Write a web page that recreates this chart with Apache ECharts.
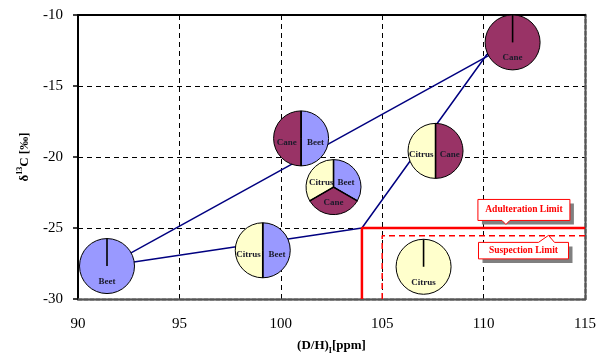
<!DOCTYPE html>
<html>
<head>
<meta charset="utf-8">
<script src="https://cdn.jsdelivr.net/npm/echarts@6/dist/echarts.min.js"></script>
<style>
  html, body { margin: 0; padding: 0; background: #fff; }
  #chart1 { width: 600px; height: 360px; }
</style>
</head>
<body>
<div id="chart1"></div>
<script>
// pie positions (D/H, d13C) and their slices, clockwise from 12 o'clock
const pieX = [91.43, 101.0, 102.6, 99.11, 107.63, 111.43, 107.04];
const pieY = [-27.68, -18.69, -22.12, -26.57, -19.57, -11.93, -27.73];
const pieParts = [
    ['Beet'],
    ['Beet', 'Cane'],
    ['Beet', 'Cane', 'Citrus'],
    ['Beet', 'Citrus'],
    ['Cane', 'Citrus'],
    ['Cane'],
    ['Citrus']
];
const partColors = { Beet: '#9999FF', Cane: '#993366', Citrus: '#FFFFCC' };

// blue connecting lines
const line1X = [91.43, 111.43];
const line1Y = [-27.68, -11.93];
const line2X = [91.43, 104, 110.16, 111.43];
const line2Y = [-27.68, -25, -12.78, -11.93];

// limits
const adultX = [104, 104, 115];
const adultY = [-30, -25, -25];
const suspX = [105, 105, 115];
const suspY = [-30, -25.55, -25.55];

// callouts (tip point)
const calloutText = ['Adulteration Limit', 'Suspection Limit'];
const calloutX = [111.1, 113.2];
const calloutY = [-24.75, -25.52];

const serif = '"Liberation Serif", "DejaVu Serif", serif';

function pairs(xs, ys) {
    let out = [];
    for (let i = 0; i < xs.length; i++) out.push([xs[i], ys[i]]);
    return out;
}

function renderPie(params, api) {
    const c = api.coord([api.value(0), api.value(1)]);
    const parts = pieParts[params.dataIndex];
    const n = parts.length;
    const r = 27.5;
    const step = Math.PI * 2 / n;
    let children = [];
    parts.forEach(function (p, i) {
        const a0 = -Math.PI / 2 + i * step;
        children.push({
            type: 'sector',
            shape: { cx: c[0], cy: c[1], r: r, r0: 0, startAngle: a0, endAngle: a0 + step, clockwise: true },
            style: { fill: partColors[p], stroke: '#000', lineWidth: 1 }
        });
    });
    for (let i = 0; i < n; i++) {
        const a = -Math.PI / 2 + i * step;
        children.push({
            type: 'line',
            shape: { x1: c[0], y1: c[1], x2: c[0] + Math.cos(a) * r, y2: c[1] + Math.sin(a) * r },
            style: { stroke: '#000', lineWidth: 1.6 }
        });
    }
    parts.forEach(function (p, i) {
        let dx, dy;
        if (n === 1) {
            dx = 0; dy = r * 0.57;
        } else {
            const mid = -Math.PI / 2 + (i + 0.5) * step;
            dx = Math.cos(mid) * r * 0.52;
            dy = Math.sin(mid) * r * 0.55 + 4 * Math.abs(Math.cos(mid));
        }
        children.push({
            type: 'text',
            style: {
                x: c[0] + dx, y: c[1] + dy, text: p,
                fill: '#1a1a2a', font: 'bold 9px ' + serif,
                align: 'center', verticalAlign: 'middle'
            }
        });
    });
    return { type: 'group', children: children };
}

function renderCallout(params, api) {
    const t = api.coord([api.value(0), api.value(1)]);
    const i = params.dataIndex;
    let L, R, T, B, pts;
    if (i === 0) {
        L = -28; R = 64; T = -25; B = -4;
        pts = [[L, T], [R, T], [R, B], [4, B], [0, 0], [-4, B], [L, B]];
    } else {
        L = -70; R = 20; T = 7; B = 23.5;
        pts = [[L, T], [-10, T], [0, 0], [6, T], [R, T], [R, B], [L, B]];
    }
    const abs = pts.map(function (p) { return [t[0] + p[0], t[1] + p[1]]; });
    return {
        type: 'group',
        children: [
            {
                type: 'rect',
                shape: { x: t[0] + L + 4, y: t[1] + T + 4, width: R - L, height: B - T },
                style: { fill: '#808080' }
            },
            {
                type: 'polygon',
                shape: { points: abs },
                style: { fill: '#fff', stroke: '#FF0000', lineWidth: 1 }
            },
            {
                type: 'text',
                style: {
                    x: t[0] + (L + R) / 2, y: t[1] + (T + B) / 2, text: calloutText[i],
                    fill: '#FF0000', font: 'bold 9.5px ' + serif,
                    align: 'center', verticalAlign: 'middle'
                }
            }
        ]
    };
}

let chart1;

function getOptionChart1() {
    let pieData = [];
    for (let i = 0; i < pieX.length; i++) pieData.push([pieX[i], pieY[i]]);
    let calloutData = [];
    for (let i = 0; i < calloutX.length; i++) calloutData.push([calloutX[i], calloutY[i]]);

    const labelStyle = { color: '#000', fontSize: 15, fontFamily: serif };
    const gridLine = { show: true, lineStyle: { color: '#000', width: 1, type: [5, 4] } };

    return {
        animation: false,
        backgroundColor: '#fff',
        grid: { left: 78, right: 15, top: 15, bottom: 57 },
        xAxis: [
            {
                type: 'value', min: 90, max: 115, interval: 5, position: 'bottom',
                name: '{b|(D/H)}{sub|I}{b|[ppm]}',
                nameLocation: 'middle', nameGap: 38,
                nameTextStyle: {
                    rich: {
                        b: { fontFamily: serif, fontWeight: 'bold', fontSize: 13, color: '#000', lineHeight: 18 },
                        sub: { fontFamily: serif, fontWeight: 'bold', fontSize: 8, color: '#000', lineHeight: 9, verticalAlign: 'bottom' }
                    }
                },
                axisLine: { show: true, onZero: false, lineStyle: { color: '#555', width: 2.5, type: [4, 2] } },
                axisTick: { show: false },
                axisLabel: Object.assign({ margin: 18 }, labelStyle),
                splitLine: gridLine
            },
            {
                type: 'value', min: 90, max: 115, interval: 5, position: 'top',
                axisLine: { show: true, onZero: false, lineStyle: { color: '#000', width: 2 } },
                axisTick: { show: false }, axisLabel: { show: false }, splitLine: { show: false }
            }
        ],
        yAxis: [
            {
                type: 'value', min: -30, max: -10, interval: 5, position: 'left',
                name: '{b|δ}{sup|13}{b|C [‰]}',
                nameLocation: 'middle', nameGap: 44,
                nameTextStyle: {
                    rich: {
                        b: { fontFamily: serif, fontWeight: 'bold', fontSize: 13, color: '#000', lineHeight: 18 },
                        sup: { fontFamily: serif, fontWeight: 'bold', fontSize: 8, color: '#000', lineHeight: 9, verticalAlign: 'top' }
                    }
                },
                axisLine: { show: true, onZero: false, lineStyle: { color: '#000', width: 2 } },
                axisTick: { show: true, length: 5, lineStyle: { color: '#000', width: 1.5 } },
                axisLabel: Object.assign({ margin: 15 }, labelStyle),
                splitLine: gridLine
            },
            {
                type: 'value', min: -30, max: -10, interval: 5, position: 'right',
                axisLine: { show: true, onZero: false, lineStyle: { color: '#555', width: 2.5, type: [4, 2] } },
                axisTick: { show: false }, axisLabel: { show: false }, splitLine: { show: false }
            }
        ],
        series: [
            {
                name: 'line1', type: 'line', data: pairs(line1X, line1Y), showSymbol: false, z: 2,
                lineStyle: { color: '#000080', width: 1.5 }
            },
            {
                name: 'line2', type: 'line', data: pairs(line2X, line2Y), showSymbol: false, z: 2,
                lineStyle: { color: '#000080', width: 1.5 }
            },
            {
                name: 'Suspection Limit', type: 'line', data: pairs(suspX, suspY), showSymbol: false, z: 3,
                lineStyle: { color: '#FF0000', width: 1.5, type: [6, 4] }
            },
            {
                name: 'Adulteration Limit', type: 'line', data: pairs(adultX, adultY), showSymbol: false, z: 3,
                lineStyle: { color: '#FF0000', width: 2.5 }
            },
            {
                name: 'pies', type: 'custom', renderItem: renderPie, data: pieData, z: 4, clip: false
            },
            {
                name: 'callouts', type: 'custom', renderItem: renderCallout, data: calloutData, z: 5, clip: false
            }
        ]
    };
}

document.addEventListener('DOMContentLoaded', function () {
    chart1 = echarts.init(document.getElementById('chart1'));
    chart1.setOption(getOptionChart1());
});
</script>
</body>
</html>
